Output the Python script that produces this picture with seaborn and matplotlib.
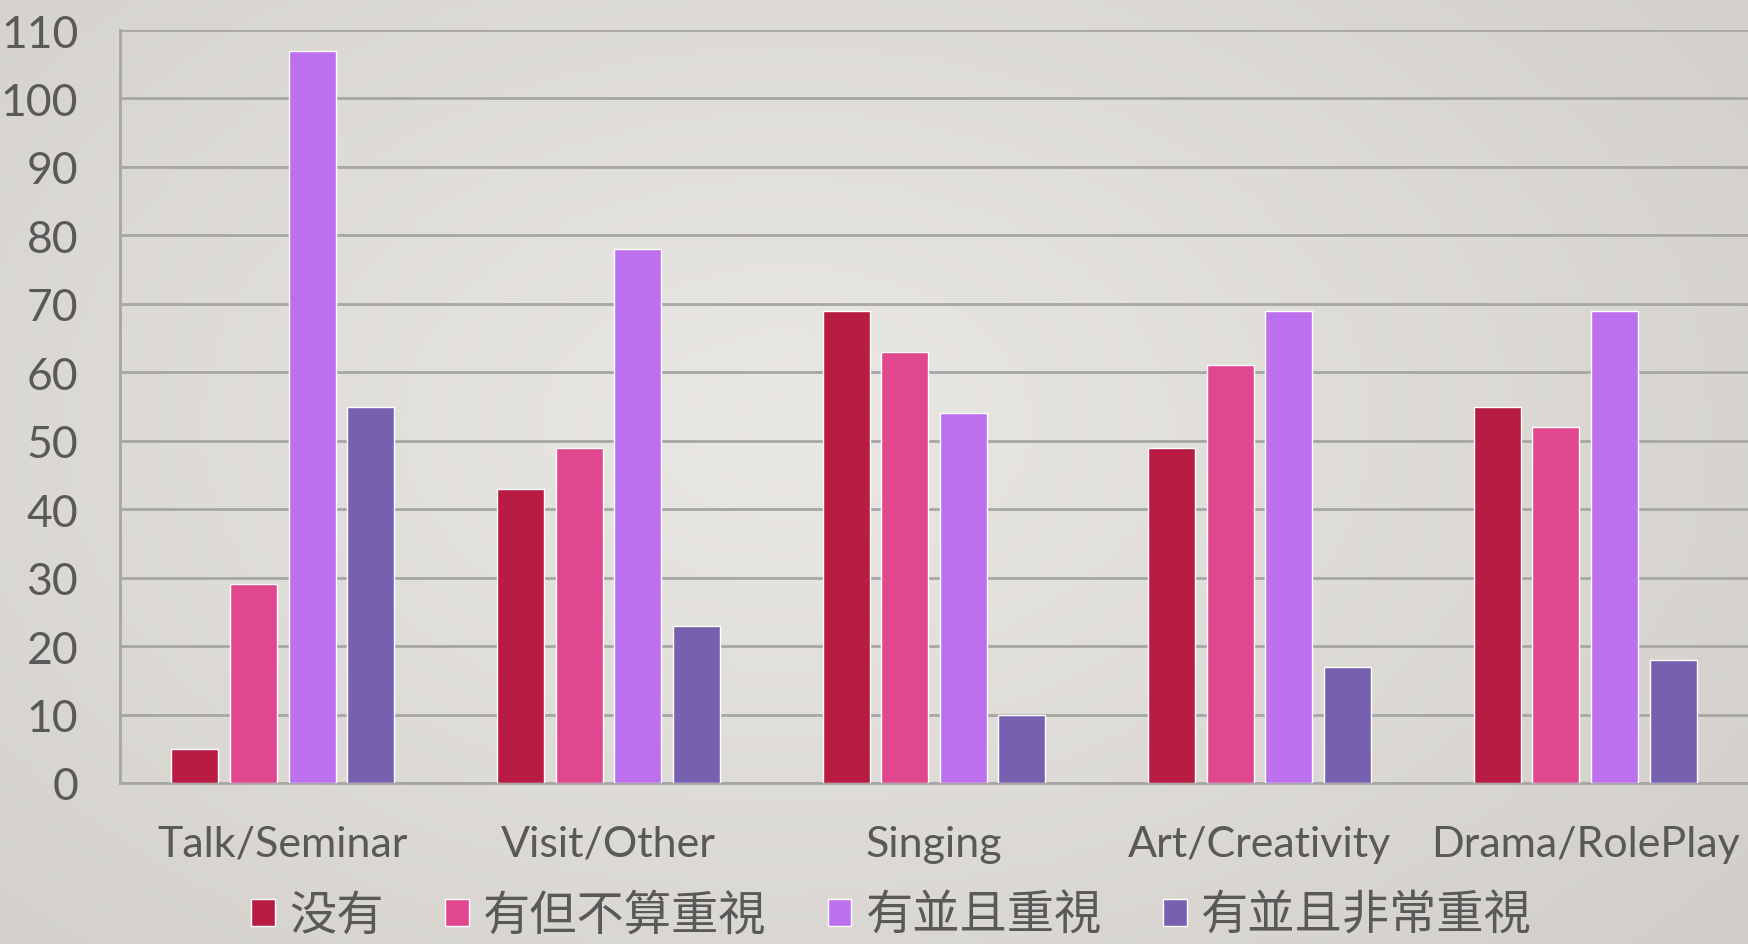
import numpy as np
import pandas as pd
import matplotlib
matplotlib.use("Agg")
import matplotlib.pyplot as plt
import seaborn as sns

# ---- data ----
activities = ["Talk/Seminar", "Visit/Other", "Singing", "Art/Creativity", "Drama/RolePlay"]
levels = ["没有", "有但不算重視", "有並且重視", "有並且非常重視"]
none_vals = [5, 43, 69, 49, 55]
some_vals = [29, 49, 63, 61, 52]
valued_vals = [107, 78, 54, 69, 69]
highly_vals = [55, 23, 10, 17, 18]
colors = ["#B91C42", "#E0478E", "#BC70EE", "#7860B0"]
y_ticks = list(range(0, 111, 10))

series = [none_vals, some_vals, valued_vals, highly_vals]
rows = []
for lvl, vals in zip(levels, series):
    for act, v in zip(activities, vals):
        rows.append({"activity": act, "level": lvl, "count": v})
df = pd.DataFrame(rows)

sns.set_theme(style="white")
plt.rcParams["font.family"] = ["Lato", "Noto Sans CJK TC", "DejaVu Sans"]
text_color = "#595959"
grid_color = "#A6A6A6"

fig = plt.figure(figsize=(17.48, 9.45), dpi=100)

# background gradient
bg = fig.add_axes([0, 0, 1, 1], zorder=-10)
yy, xx = np.mgrid[0:1:200j, 0:1:400j]
d = np.sqrt(((xx - 0.45) / 0.75) ** 2 + ((yy - 0.45) / 0.9) ** 2)
d = np.clip(d, 0, 1)
c_center = np.array([234, 232, 228]) / 255
c_edge = np.array([208, 205, 200]) / 255
img = c_center[None, None, :] * (1 - d[..., None]) + c_edge[None, None, :] * d[..., None]
bg.imshow(img, aspect="auto", extent=[0, 1, 0, 1], origin="upper")
bg.set_axis_off()

ax = fig.add_axes([120 / 1748, 1 - 784 / 945, 1 - 120 / 1748, (784 - 31) / 945])
ax.set_facecolor("none")

sns.barplot(data=df, x="activity", y="count", hue="level", palette=colors,
            saturation=1, width=0.72, gap=0.2, ax=ax, legend=True, zorder=3)

ax.set_xlim(-0.5, 4.5)
ax.set_ylim(0, 110)
ax.set_yticks(y_ticks)
ax.yaxis.grid(True, color=grid_color, linewidth=2, zorder=0)
ax.set_axisbelow(True)
ax.xaxis.grid(False)
for s in ["top", "right"]:
    ax.spines[s].set_visible(False)
for s in ["left", "bottom"]:
    ax.spines[s].set_color(grid_color)
    ax.spines[s].set_linewidth(2)
ax.set_xlabel("")
ax.set_ylabel("")
ax.tick_params(axis="y", length=0, pad=30, labelsize=32, labelcolor=text_color)
ax.tick_params(axis="x", length=0, pad=30, labelsize=31, labelcolor=text_color)

handles, labels = ax.get_legend_handles_labels()
ax.get_legend().remove()
fig.legend(handles, labels, loc="center", bbox_to_anchor=(0.51, 0.03),
           ncol=4, frameon=False, labelcolor=text_color, borderpad=0.1,
           handlelength=0.5, handleheight=0.5, handletextpad=0.3,
           columnspacing=1.3, prop={"family": ["Noto Sans CJK TC", "DejaVu Sans"], "size": 34})

fig.savefig("out.png", dpi=100)
